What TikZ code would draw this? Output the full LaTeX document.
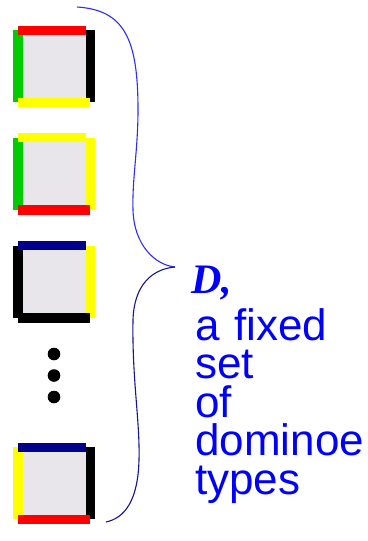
\documentclass[tikz,border=0pt]{standalone}
\usepackage{fontspec}
\setmainfont{Liberation Sans}
\newfontfamily\timesfont{Liberation Serif}
\definecolor{dred}{RGB}{255,0,0}
\definecolor{dgreen}{RGB}{0,204,0}
\definecolor{dyellow}{RGB}{255,255,0}
\definecolor{dnavy}{RGB}{0,0,140}
\definecolor{dblack}{RGB}{0,0,0}
\definecolor{dgray}{RGB}{232,230,235}
\definecolor{txtblue}{RGB}{0,0,255}
\definecolor{braceup}{RGB}{45,45,255}
\definecolor{bracedown}{RGB}{20,20,150}
\tikzset{
  txt/.style={anchor=base west, inner sep=0pt, text=txtblue, text width=172pt, align=left,
    font=\fontsize{44}{38.5}\selectfont},
  dotmark/.style={circle, fill=black, inner sep=0pt, minimum size=12.6pt},
  bracelineup/.style={draw=braceup, line width=1.1pt},
  bracelinedown/.style={draw=bracedown, line width=1.1pt},
}
% \dominotile{top y}{top}{left}{right}{bottom}
\newcommand{\dominotile}[5]{%
  \fill[dgray] (23,#1+4.5) rectangle (86,#1+67.5);
  \fill[#3] (13,#1) rectangle (23,#1+72);
  \fill[#2] (18,#1-4.5) rectangle (86,#1+4.5);
  \fill[#4] (86,#1) rectangle (95,#1+72);
  \fill[#5] (18,#1+67.5) rectangle (90,#1+77);
}
\begin{document}
\begin{tikzpicture}[x=1pt,y=-1pt]
\fill[white] (0,0) rectangle (367,541);
\useasboundingbox (0,0) rectangle (367,541);

\dominotile{30}{dred}{dgreen}{dblack}{dyellow}
\dominotile{137.5}{dyellow}{dgreen}{dyellow}{dred}
\dominotile{245.7}{dnavy}{dblack}{dyellow}{dblack}
\dominotile{447}{dnavy}{dyellow}{dblack}{dred}

\node[dotmark] (d1) at (54,354) {};
\node[dotmark] (d2) at (54,375.5) {};
\node[dotmark] (d3) at (54,397) {};

\coordinate (btop) at (77,7);
\coordinate (btip) at (175,267);
\coordinate (bbot) at (106,522);
\draw[bracelineup] (btop) .. controls (125,10) and (138,40) .. (138,110)
  .. controls (138,150) and (132,180) .. (133,210)
  .. controls (134,245) and (155,265) .. (btip);
\draw[bracelinedown] (btip) .. controls (152,269) and (134,285) .. (133,320)
  .. controls (132,380) and (140,420) .. (139,460)
  .. controls (138,500) and (125,518) .. (bbot);

\node[anchor=base west, inner sep=0pt, text=txtblue, font=\timesfont\bfseries\itshape\fontsize{42}{42}\selectfont] (lD) at (191,293) {D,};
\node[txt] (body) at (195,340) {a fixed\\set\\of\\dominoe\\types};
\end{tikzpicture}
\end{document}
